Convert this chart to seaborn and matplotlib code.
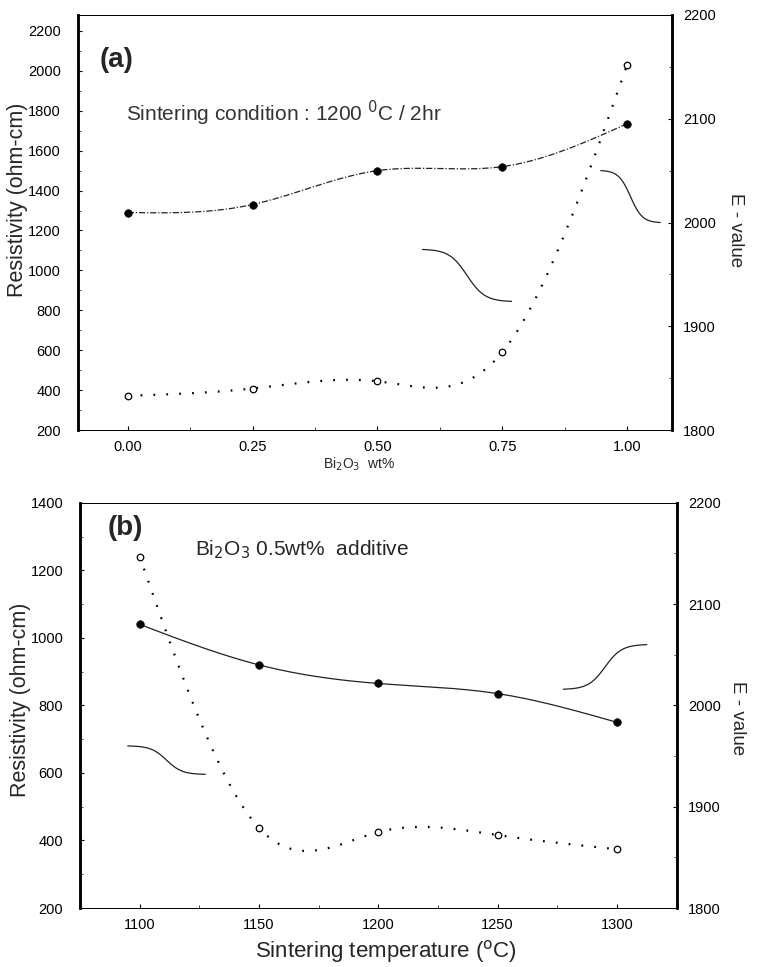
import numpy as np
import pandas as pd
import matplotlib
matplotlib.use("Agg")
import matplotlib.pyplot as plt
import seaborn as sns
from matplotlib.ticker import MultipleLocator

sns.set_theme(style="white")
plt.rcParams['font.family'] = ['Liberation Sans', 'DejaVu Sans']

# ---- data (a) ----
bi2o3_wt = [0.00, 0.25, 0.50, 0.75, 1.00]
resist_a = [1290, 1330, 1500, 1520, 1735]
evalue_a = [1833, 1840, 1847, 1875, 2152]
xticks_a = ["0.00", "0.25", "0.50", "0.75", "1.00"]

# ---- data (b) ----
temp_c = [1100, 1150, 1200, 1250, 1300]
resist_b = [1040, 920, 865, 835, 750]
evalue_b = [2147, 1879, 1875, 1872, 1858]
xticks_b = ["1100", "1150", "1200", "1250", "1300"]


def natural_spline(x, y, n=300):
    x = np.asarray(x, float); y = np.asarray(y, float)
    m = len(x); h = np.diff(x)
    A = np.zeros((m, m)); r = np.zeros(m)
    A[0, 0] = A[-1, -1] = 1
    for i in range(1, m - 1):
        A[i, i - 1] = h[i - 1]; A[i, i] = 2 * (h[i - 1] + h[i]); A[i, i + 1] = h[i]
        r[i] = 6 * ((y[i + 1] - y[i]) / h[i] - (y[i] - y[i - 1]) / h[i - 1])
    M = np.linalg.solve(A, r)
    xs = np.linspace(x[0], x[-1], n); ys = np.empty_like(xs)
    for k, t in enumerate(xs):
        i = min(np.searchsorted(x, t, side='right') - 1, m - 2)
        a = x[i + 1] - t; b = t - x[i]
        ys[k] = (M[i] * a**3 + M[i + 1] * b**3) / (6 * h[i]) + \
            (y[i] / h[i] - M[i] * h[i] / 6) * a + (y[i + 1] / h[i] - M[i + 1] * h[i] / 6) * b
    return xs, ys


def s_curve(ax, x0, y0, x1, y1, **kw):
    # decorative bracket connecting a curve with its axis (axes fraction coords)
    t = np.linspace(0, 1, 60)
    s = 1 / (1 + np.exp(-10 * (t - 0.5)))
    s = (s - s[0]) / (s[-1] - s[0])
    xs = x0 + (x1 - x0) * t
    ys = y0 + (y1 - y0) * s
    ax.plot(xs, ys, transform=ax.transAxes, color='#222222', lw=0.9, **kw)


fig = plt.figure(figsize=(7.62, 9.67), dpi=100)
axa = fig.add_axes([0.102, 0.5553, 0.780, 0.4292])
axb = fig.add_axes([0.105, 0.061, 0.783, 0.419])


def draw(ax, x, r, e, xlim, ylim_l, xticks, xticklabels, xminor, rdash):
    xs, ys = natural_spline(x, r)
    sns.lineplot(x=xs, y=ys, ax=ax, color='#222222', lw=0.9, linestyle=rdash, sort=False)
    sns.scatterplot(x=x, y=r, ax=ax, color='black', s=30, edgecolor='black', zorder=5)
    ax.set_xlim(*xlim); ax.set_ylim(*ylim_l)
    ax.set_xticks(xticks); ax.set_xticklabels(xticklabels)
    ax.xaxis.set_minor_locator(MultipleLocator(xminor))
    ax.yaxis.set_major_locator(MultipleLocator(200))
    ax.yaxis.set_minor_locator(MultipleLocator(100))
    ax2 = ax.twinx()
    xs2, ys2 = natural_spline(x, e)
    sns.lineplot(x=xs2, y=ys2, ax=ax2, color='black', lw=1.6, linestyle=(0, (0.8, 5)), sort=False)
    sns.scatterplot(x=x, y=e, ax=ax2, facecolor='white', edgecolor='black', s=22, linewidth=0.9, zorder=5)
    ax2.set_ylim(1800, 2200)
    ax2.yaxis.set_major_locator(MultipleLocator(100))
    ax2.yaxis.set_minor_locator(MultipleLocator(50))
    for a in (ax, ax2):
        a.tick_params(which='major', direction='in', length=3, width=0.8, labelsize=10.5, colors='black', pad=8)
        a.tick_params(which='minor', direction='in', length=2, width=0.6)
        for sp in a.spines.values():
            sp.set_color('black'); sp.set_linewidth(0.7)
        a.spines['left'].set_linewidth(1.8)
        a.spines['right'].set_linewidth(1.8)
    ax.tick_params(axis='y', which='major', pad=12)
    ax.tick_params(axis='x', which='major', pad=7)
    ax.tick_params(axis='y', which='both', left=True, right=False)
    ax.tick_params(axis='x', which='both', bottom=True)
    ax2.tick_params(axis='y', which='both', right=True, left=False)
    ax2.set_ylabel("E - value", rotation=-90, fontsize=13.5, ha='center', va='center')
    ax.set_ylabel("Resistivity (ohm-cm)", fontsize=15.5, ha='center', va='center')
    return ax2


axa2 = draw(axa, bi2o3_wt, resist_a, evalue_a, (-0.1, 1.09), (200, 2280),
            bi2o3_wt, xticks_a, 0.125, (0, (5, 1.5, 1, 1.5)))
axb2 = draw(axb, temp_c, resist_b, evalue_b, (1075, 1325), (200, 1400),
            temp_c, xticks_b, 25, '-')

axa.yaxis.set_label_coords(-0.102, 0.554)
axb.yaxis.set_label_coords(-0.100, 0.514)
axa2.yaxis.set_label_coords(1.106, 0.482)
axb2.yaxis.set_label_coords(1.102, 0.469)

axa.set_xlabel("Bi$_2$O$_3$  wt%", fontsize=10, ha='center', va='center')
axa.xaxis.set_label_coords(0.473, -0.082)
axb.set_xlabel("Sintering temperature ($^{\\rm o}$C)", fontsize=16, ha='center', va='center')
axb.xaxis.set_label_coords(0.513, -0.108)

axa.text(0.037, 0.892, "(a)", transform=axa.transAxes, fontsize=20, fontweight='bold', va='center')
axa.text(0.082, 0.764, "Sintering condition : 1200 $^{\\rm 0}$C / 2hr",
         transform=axa.transAxes, fontsize=15, color='#333333', va='center')
axb.text(0.047, 0.938, "(b)", transform=axb.transAxes, fontsize=20, fontweight='bold', va='center')
axb.text(0.193, 0.884, "Bi$_2$O$_3$ 0.5wt%  additive", transform=axb.transAxes, fontsize=15, va='center')

# decorative brackets linking curves to axes
s_curve(axa, 0.88, 0.625, 0.98, 0.50)
s_curve(axa, 0.58, 0.435, 0.73, 0.31)
s_curve(axb, 0.08, 0.40, 0.21, 0.33)
s_curve(axb, 0.81, 0.54, 0.95, 0.65)

fig.savefig("out.png", dpi=100)
